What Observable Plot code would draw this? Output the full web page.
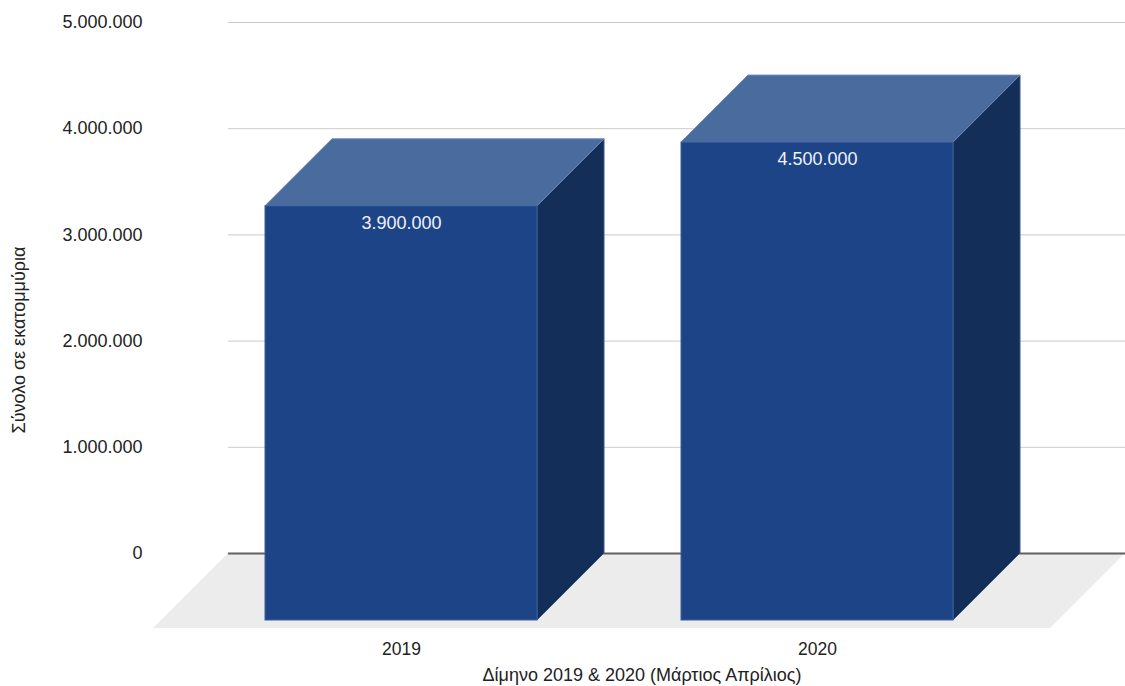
<!DOCTYPE html>
<html>
<head>
<meta charset="utf-8">
<script src="https://cdn.jsdelivr.net/npm/d3@7"></script>
<script src="https://cdn.jsdelivr.net/npm/@observablehq/plot@0.6"></script>
<style>
  html, body { margin: 0; padding: 0; background: #fff; }
  #chart { width: 1125px; height: 686px; }
</style>
</head>
<body>
<div id="chart"></div>
<script>
// ---- data ----
const years = ["2019", "2020"];
const totals = [3900000, 4500000];
const yTicks = [0, 1000000, 2000000, 3000000, 4000000, 5000000];
const xTitle = "Δίμηνο 2019 & 2020 (Μάρτιος Απρίλιος)";
const yTitle = "Σύνολο σε εκατομμύρια";

const data = years.map((year, i) => ({year, value: totals[i]}));

// ---- style ----
const depth = 67;       // 3D offset of bars (px)
const floorDepth = 75;  // 3D offset of floor (px)
const cFront = "#1e4488";
const cTop = "#4a6b9e";
const cSide = "#142e5a";
const cFloor = "#ececec";
const font = "Arial, 'Liberation Sans', sans-serif";

const locale = d3.formatLocale({decimal: ",", thousands: ".", grouping: [3], currency: ["", "€"]});
const fmt = locale.format(",");

const svgNS = "http://www.w3.org/2000/svg";
function poly(points, fill, stroke) {
  const p = document.createElementNS(svgNS, "polygon");
  p.setAttribute("points", points.map(d => d.join(",")).join(" "));
  p.setAttribute("fill", fill);
  if (stroke) {
    p.setAttribute("stroke", stroke);
    p.setAttribute("stroke-width", 1);
    p.setAttribute("stroke-linejoin", "round");
  }
  return p;
}

// Floor parallelogram under the plot
function floorMark(index, scales, values, dim) {
  const g = document.createElementNS(svgNS, "g");
  const x0 = dim.marginLeft, x1 = dim.width - dim.marginRight;
  const y0 = scales.y(0);
  g.appendChild(poly([
    [x0, y0], [x1, y0], [x1 - floorDepth, y0 + floorDepth], [x0 - floorDepth, y0 + floorDepth]
  ], cFloor));
  return g;
}

// Top and side faces of the 3D bars
function facesMark(index, scales, values, dim) {
  const g = document.createElementNS(svgNS, "g");
  const bw = scales.x.bandwidth();
  for (const d of data) {
    const xl = scales.x(d.year), xr = xl + bw;
    const yt = scales.y(d.value), yb = scales.y(0);
    // side face (right)
    g.appendChild(poly([
      [xr, yt], [xr, yb], [xr - depth, yb + depth], [xr - depth, yt + depth]
    ], cSide, "#3a5687"));
    // top face
    g.appendChild(poly([
      [xl, yt], [xr, yt], [xr - depth, yt + depth], [xl - depth, yt + depth]
    ], cTop, "#6a86b3"));
  }
  return g;
}

const chart = Plot.plot({
  width: 1125,
  height: 686,
  marginTop: 22,
  marginBottom: 133,
  marginLeft: 228,
  marginRight: 0,
  style: {fontFamily: font, background: "#fff", overflow: "visible"},
  x: {domain: years, paddingInner: 0.345, paddingOuter: 0.25, axis: null},
  y: {domain: [0, 5000000], axis: null},
  marks: [
    floorMark,
    Plot.gridY(yTicks, {stroke: "#cccccc", strokeOpacity: 1, strokeWidth: 1}),
    Plot.ruleY([0], {stroke: "#606060", strokeWidth: 2}),
    facesMark,
    Plot.barY(data, {x: "year", y: "value", fill: cFront, stroke: "#3d5f9a", strokeWidth: 1, dx: -depth, dy: depth, inset: 0}),
    Plot.text(data, {x: "year", y: "value", text: d => fmt(d.value), dx: -depth, dy: depth + 17, fill: "#eef2f8", fontSize: 18}),
    Plot.axisY(yTicks, {tickSize: 0, tickPadding: 86, tickFormat: fmt, fontSize: 18, label: null, fill: "#222"}),
    Plot.axisX({tickSize: 0, tickPadding: 89, dx: -depth, fontSize: 17.5, label: null, fill: "#222"}),
    Plot.text([xTitle], {frameAnchor: "bottom", textAnchor: "middle", lineAnchor: "middle", dx: -35, dy: 122, fontSize: 18, fill: "#222"}),
    Plot.text([yTitle], {frameAnchor: "left", textAnchor: "middle", lineAnchor: "middle", rotate: -90, dx: -209, dy: 52, fontSize: 18, fill: "#222"})
  ]
});

document.getElementById("chart").appendChild(chart);
</script>
</body>
</html>
